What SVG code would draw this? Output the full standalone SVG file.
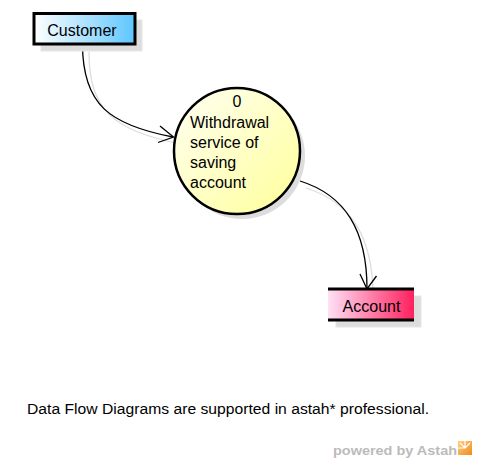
<svg xmlns="http://www.w3.org/2000/svg" width="477" height="462" viewBox="0 0 477 462">
<defs>
<linearGradient id="gCust" x1="0" y1="0" x2="1" y2="0">
<stop offset="0" stop-color="#ffffff"/>
<stop offset="1" stop-color="#5ec6ff"/>
</linearGradient>
<linearGradient id="gProc" x1="0" y1="0" x2="1" y2="1">
<stop offset="0" stop-color="#fffff4"/>
<stop offset="1" stop-color="#ffff99"/>
</linearGradient>
<linearGradient id="gAcc" x1="0" y1="0" x2="1" y2="0">
<stop offset="0" stop-color="#ffe0f6"/>
<stop offset="1" stop-color="#ff205e"/>
</linearGradient>
<linearGradient id="gLogo" x1="0" y1="0" x2="1" y2="1">
<stop offset="0" stop-color="#ffd080"/>
<stop offset="1" stop-color="#f08a20"/>
</linearGradient>
</defs>
<style>
text{font-family:"Liberation Sans",Arial,sans-serif;fill:#000}
.lbl{font-size:16px}
.shadow{fill:#dddddd;stroke:#e6e6e6;stroke-width:1}
.flow{fill:none;stroke:#000;stroke-width:1.3}
.flowsh{fill:none;stroke:#dddddd;stroke-width:1.3}
</style>
<g id="connectors">
<path class="flowsh" d="M89,52 C89,111 114,130 180,144"/>
<path class="flowsh" d="M306,188 C351,202 373,237 373,296"/>
<path class="flow" d="M82.5,44 C82.5,105 110,125 173,137"/>
<path class="flow" d="M160,126 L173.5,137 L158,142.5"/>
<path class="flow" d="M300,181 C345,195 367,230 367,289"/>
<path class="flow" d="M360,274 L367,289 L376.5,276"/>
</g>
<g id="customer">
<rect class="shadow" x="41" y="20" width="101" height="31"/>
<rect x="34" y="13.5" width="101" height="30.5" fill="url(#gCust)" stroke="#000" stroke-width="3"/>
<text class="lbl" x="82" y="36" text-anchor="middle">Customer</text>
</g>
<g id="process">
<circle cx="242" cy="156" r="63" fill="#dddddd"/>
<circle cx="237" cy="151" r="63" fill="url(#gProc)" stroke="#000" stroke-width="2.5"/>
<text class="lbl" x="237" y="106.5" text-anchor="middle">0</text>
<text class="lbl" x="190" y="128">Withdrawal</text>
<text class="lbl" x="190" y="148">service of</text>
<text class="lbl" x="190" y="168">saving</text>
<text class="lbl" x="190" y="188">account</text>
</g>
<g id="account">
<rect class="shadow" x="336" y="296" width="85" height="31"/>
<rect x="328" y="289" width="86" height="31" fill="url(#gAcc)"/>
<line x1="328" y1="289" x2="414" y2="289" stroke="#000" stroke-width="3"/>
<line x1="328" y1="320" x2="414" y2="320" stroke="#000" stroke-width="3"/>
<text class="lbl" x="371.5" y="312" text-anchor="middle">Account</text>
</g>
<text x="27" y="414" font-size="14" textLength="402" lengthAdjust="spacingAndGlyphs">Data Flow Diagrams are supported in astah* professional.</text>
<text x="333" y="455" font-size="13" font-weight="bold" style="fill:#bbbbbb" textLength="124" lengthAdjust="spacingAndGlyphs">powered by Astah</text>
<g id="logo">
<rect x="458" y="441" width="14" height="14" fill="url(#gLogo)"/>
<path d="M465,441 L465,448 M458,448 L465,448 M465,448 L460,443 M465,448 L470,443" stroke="#fff" stroke-width="1.2" fill="none"/>
</g>
</svg>
